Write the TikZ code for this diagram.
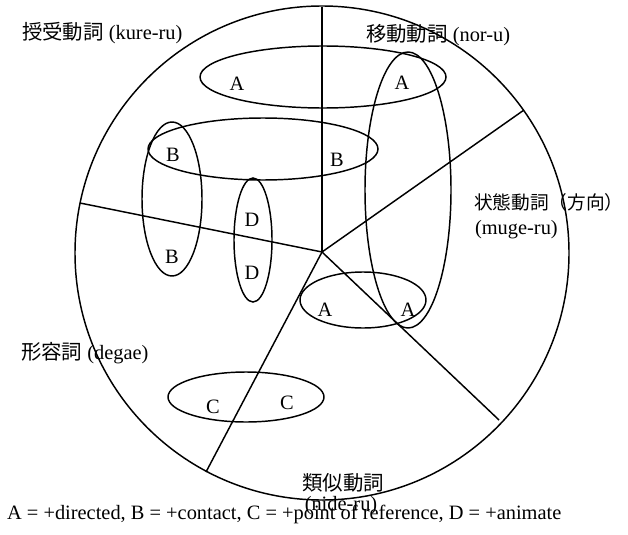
\documentclass[tikz,border=0pt]{standalone}
\usepackage{fontspec}
\setmainfont{Liberation Serif}
\newfontfamily\jfont{Noto Sans CJK JP}
\begin{document}
\begin{tikzpicture}[
x=0.75pt,y=-0.75pt,
line width=1.1pt,
every node/.style={inner sep=1pt,font=\fontsize{15.3}{18}\selectfont},
letter/.style={},
field/.style={anchor=west}
]
\useasboundingbox (0,0) rectangle (628,535);
% circle and spokes
\coordinate (hub) at (322,252);
\draw (322,253) circle [radius=185.25pt];
\coordinate (top) at (322,7);
\coordinate (left) at (80,203);
\coordinate (upright) at (524,110);
\coordinate (lowleft) at (206,472);
\coordinate (lowright) at (499,420);
\foreach \e in {top,left,upright,lowleft,lowright}
  \draw (hub) -- (\e);
% feature ellipses
\draw (323,77) ellipse [x radius=92.25pt,y radius=23.25pt];
\draw (408,190) ellipse [x radius=32.25pt,y radius=103.5pt];
\draw (263,149) ellipse [x radius=86.25pt,y radius=23.25pt];
\draw (172,199) ellipse [x radius=22.5pt,y radius=57.75pt];
\draw (253,240) ellipse [x radius=14.25pt,y radius=46.5pt];
\draw (363,300) ellipse [x radius=47.25pt,y radius=21pt];
\draw (246,397) ellipse [x radius=58.5pt,y radius=18.75pt];
% letters
\node[letter] (a1) at (237,84) {A};
\node[letter] (a2) at (402,83) {A};
\node[letter] (b1) at (173,155) {B};
\node[letter] (b2) at (337,160) {B};
\node[letter] (b3) at (172,257) {B};
\node[letter] (d1) at (252,220) {D};
\node[letter] (d2) at (252,273) {D};
\node[letter] (a3) at (325,310) {A};
\node[letter] (a4) at (408,310) {A};
\node[letter] (c1) at (213,407) {C};
\node[letter] (c2) at (287,403) {C};
% verb classes
\node[field] (kureru) at (20,33) {{\jfont 授受動詞} (kure-ru)};
\node[field] (noru) at (364,35) {{\jfont 移動動詞} (nor-u)};
\node[field] (jotai) at (472,202) {\jfont\fontsize{14}{17}\selectfont 状態動詞（方向）};
\node[field] (mugeru) at (473,230) {(muge-ru)};
\node[field] (degae) at (19,353) {{\jfont 形容詞} (degae)};
\node (ruiji) at (343,483) {\jfont 類似動詞};
\node (nideru) at (341,506) {(nide-ru)};
\node[field] (legend) at (5,514) {A = +directed, B = +contact, C = +point of reference, D = +animate};
\end{tikzpicture}
\end{document}
